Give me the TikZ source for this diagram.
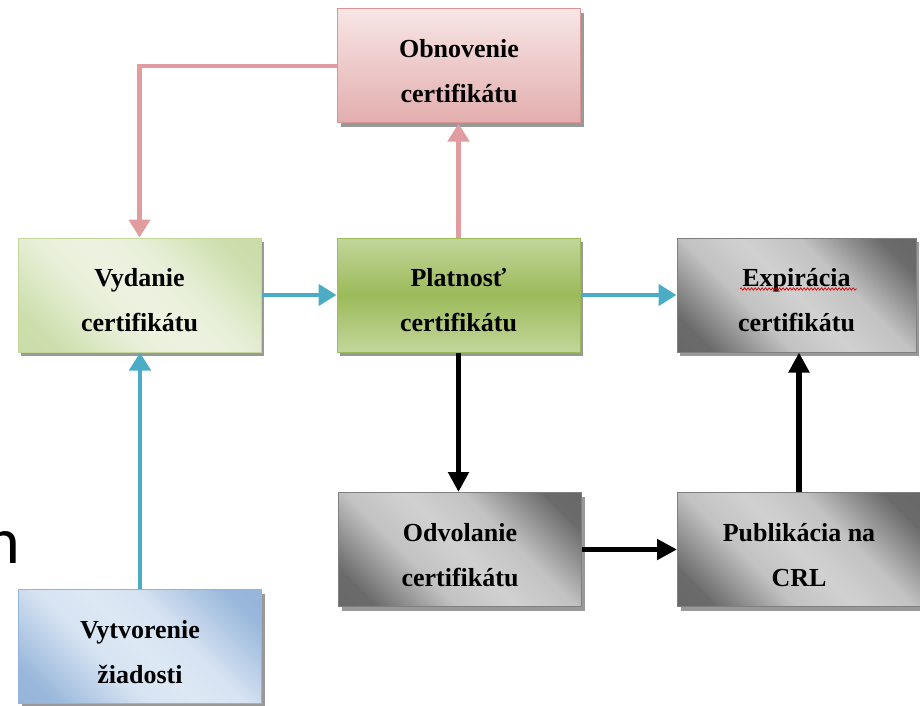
\documentclass[tikz,border=0pt]{standalone}
\usepackage{fontspec}
\setmainfont{Liberation Serif}
\newfontfamily\slidefont{Carlito}
\usetikzlibrary{arrows.meta,shadows,decorations.pathmorphing}

% fills of the boxes
\pgfdeclareverticalshading{pinkfill}{100bp}{%
  rgb(0bp)=(0.89,0.68,0.68); rgb(25bp)=(0.89,0.68,0.68);
  rgb(75bp)=(0.97,0.90,0.90); rgb(100bp)=(0.97,0.90,0.90)}
\pgfdeclareverticalshading{validfill}{100bp}{%
  rgb(0bp)=(0.76,0.84,0.61); rgb(25bp)=(0.76,0.84,0.61);
  rgb(50bp)=(0.61,0.73,0.35);
  rgb(75bp)=(0.76,0.84,0.61); rgb(100bp)=(0.76,0.84,0.61)}
\pgfdeclarehorizontalshading{greenfill}{100bp}{%
  rgb(0bp)=(0.78,0.85,0.63); rgb(22bp)=(0.80,0.87,0.67);
  rgb(40bp)=(0.91,0.94,0.85); rgb(50bp)=(0.93,0.95,0.88);
  rgb(60bp)=(0.91,0.94,0.85);
  rgb(78bp)=(0.80,0.87,0.67); rgb(100bp)=(0.78,0.85,0.63)}
\pgfdeclarehorizontalshading{greyfill}{100bp}{%
  rgb(0bp)=(0.38,0.38,0.38); rgb(22bp)=(0.42,0.42,0.42);
  rgb(38bp)=(0.76,0.76,0.76); rgb(50bp)=(0.82,0.82,0.82);
  rgb(62bp)=(0.76,0.76,0.76);
  rgb(78bp)=(0.42,0.42,0.42); rgb(100bp)=(0.38,0.38,0.38)}
\pgfdeclarehorizontalshading{bluefill}{100bp}{%
  rgb(0bp)=(0.56,0.69,0.84); rgb(22bp)=(0.60,0.72,0.86);
  rgb(40bp)=(0.84,0.89,0.95); rgb(50bp)=(0.87,0.91,0.96);
  rgb(60bp)=(0.84,0.89,0.95);
  rgb(78bp)=(0.60,0.72,0.86); rgb(100bp)=(0.56,0.69,0.84)}

\definecolor{pinkline}{HTML}{E09C9E}
\definecolor{pinkedge}{HTML}{D99694}
\definecolor{blueline}{HTML}{4BACC6}
\definecolor{greenedge}{HTML}{C3D69B}
\definecolor{validedge}{HTML}{9BBB59}
\definecolor{greyedge}{HTML}{7F7F7F}
\definecolor{blueedge}{HTML}{95B3D7}

\tikzset{
  cellbox/.style={rectangle, minimum width=243pt, minimum height=114pt,
    inner sep=0pt, line width=1pt,
    drop shadow={shadow xshift=3pt, shadow yshift=-4pt, fill=black, opacity=0.4}},
  pinkbox/.style={cellbox, draw=pinkedge, shading=pinkfill},
  greenbox/.style={cellbox, draw=greenedge, shading=greenfill, shading angle=45},
  validbox/.style={cellbox, draw=validedge, shading=validfill},
  greybox/.style={cellbox, draw=greyedge, shading=greyfill, shading angle=45},
  bluebox/.style={cellbox, draw=blueedge, shading=bluefill, shading angle=45},
  boxtext/.style={align=center, inner sep=0pt,
    font=\bfseries\fontsize{26}{45}\selectfont},
  pinkarrow/.style={draw=pinkline, line width=4.5pt,
    -{Triangle[width=21pt,length=18pt]}},
  bluearrow/.style={draw=blueline, line width=4.5pt,
    -{Triangle[width=21pt,length=18pt]}},
  blackarrow/.style={draw=black, line width=5.5pt,
    -{Triangle[width=20pt,length=20pt]}}
}

\begin{document}
\begin{tikzpicture}[x=1pt,y=-1pt]
\useasboundingbox (0,0) rectangle (920,706);
\clip (0,0) rectangle (920,706);

% boxes
\node[pinkbox]  (obn) at (459,66)     {};
\node[greenbox] (vyd) at (139.5,295)  {};
\node[validbox] (pla) at (458.5,295)  {};
\node[greybox, minimum width=239pt] (exp) at (796.5,295) {};
\node[greybox]  (odv) at (460,549.5)  {};
\node[greybox]  (pub) at (799,549.5)  {};
\node[bluebox]  (vyt) at (140,646.5)  {};

% box texts
\node[boxtext] (obnt) at ([yshift=-5.5pt]obn.center) {Obnovenie\\certifikátu};
\node[boxtext] (vydt) at ([yshift=-5.5pt]vyd.center) {Vydanie\\certifikátu};
\node[boxtext] (plat) at ([yshift=-5.5pt]pla.center) {Platnosť\\certifikátu};
\node[boxtext] (expt) at ([yshift=-5.5pt]exp.center) {Expirácia\\certifikátu};
\node[boxtext] (odvt) at ([yshift=-5.5pt]odv.center) {Odvolanie\\certifikátu};
\node[boxtext] (pubt) at ([yshift=-5.5pt]pub.center) {Publikácia na\\CRL};
\node[boxtext] (vytt) at ([yshift=-5.5pt]vyt.center) {Vytvorenie\\žiadosti};

% spell-check underline
\coordinate (wavyl) at (740,289);
\coordinate (wavyr) at (857,289);
\draw[red!85!black, line width=0.7pt, decorate,
  decoration={snake, amplitude=1.2pt, segment length=3.5pt}] (wavyl) -- (wavyr);

% connectors
\draw[pinkarrow] (obn.west) -| (vyd.north);
\draw[pinkarrow] (pla.north) -- (pla.north |- obn.south);
\draw[bluearrow] (vyd.east) -- (pla.west);
\draw[bluearrow] (pla.east) -- (exp.west);
\draw[bluearrow] (vyt.north) -- (vyt.north |- vyd.south);
\draw[blackarrow] (pla.south) -- (pla.south |- odv.north);
\draw[blackarrow] (odv.east) -- (pub.west);
\draw[blackarrow] (pub.north) -- (pub.north |- exp.south);

% edge of a larger slide text
\node[font=\slidefont\fontsize{66}{70}\selectfont, anchor=base west, inner sep=0pt]
  (slide) at (-15,563) {n};
\end{tikzpicture}
\end{document}
